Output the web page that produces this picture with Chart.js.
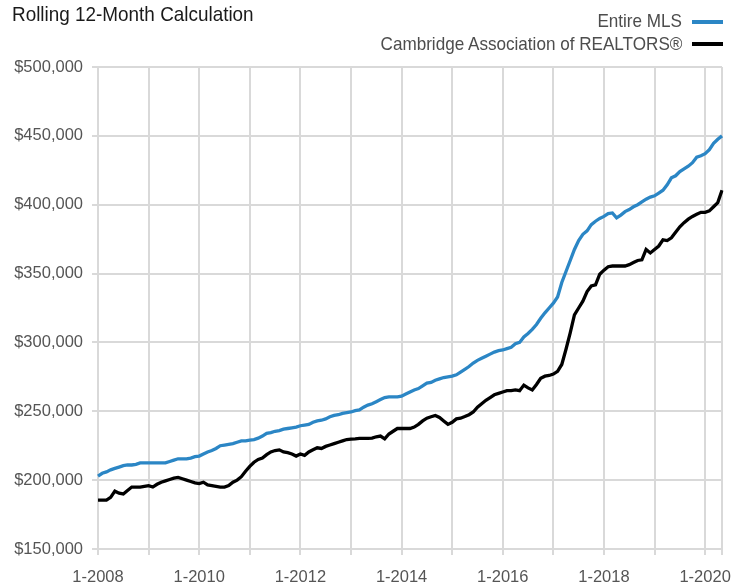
<!DOCTYPE html>
<html>
<head>
<meta charset="utf-8">
<title>Rolling 12-Month Calculation</title>
<script src="https://cdn.jsdelivr.net/npm/chart.js@4/dist/chart.umd.min.js"></script>
<style>
  html, body { margin: 0; padding: 0; background: #fff; }
  #wrap { position: relative; width: 743px; height: 585px; overflow: hidden; }
  #chart { position: absolute; left: 0; top: 0; }
  .title {
    position: absolute; left: 12px; top: 2px; line-height: 21px;
    font: 21px "Liberation Sans", Arial, sans-serif; color: #1a1a1a;
    transform: scaleX(0.9); transform-origin: left top; white-space: nowrap;
  }
  .legend-item { position: absolute; right: 61px; white-space: nowrap;
    font: 19px "Liberation Sans", Arial, sans-serif; color: #4d4d4d; line-height: 19px;
    transform: scaleX(0.9); transform-origin: right top; }
  .swatch { position: absolute; left: 692px; width: 31px; height: 4px; }
</style>
</head>
<body>
<div id="wrap">
  <canvas id="chart" width="743" height="585"></canvas>
  <div class="title">Rolling 12-Month Calculation</div>
  <div class="legend-item" style="top:11px">Entire MLS</div>
  <div class="swatch" style="top:20px;background:#2b86c5"></div>
  <div class="legend-item" style="top:34px">Cambridge Association of REALTORS®</div>
  <div class="swatch" style="top:42px;background:#000"></div>
</div>
<script>
// Rolling 12-month median price, Jan 2008 - May 2020
// -----------------------------------

var firstYear = 2008;
var monthCount = 149;

var seriesNames = ['Entire MLS', 'Cambridge Association of REALTORS®'];

var entireMls = [
    203000, 205000, 206000, 207500, 208500, 209500, 210500, 211000, 211000, 211500, 212500, 212500, // 2008
    212500, 212500, 212500, 212500, 212500, 213500, 214500, 215500, 215500, 215500, 216000, 217000, // 2009
    217500, 219000, 220500, 221500, 223000, 225000, 225500, 226000, 226500, 227500, 228500, 228500, // 2010
    229000, 229500, 230500, 232000, 234000, 234500, 235500, 236000, 237000, 237500, 238000, 238500, // 2011
    239500, 240000, 240500, 242000, 243000, 243500, 244500, 246000, 247000, 247500, 248500, 249000, // 2012
    249500, 250500, 251000, 253000, 254500, 255500, 257000, 258500, 260000, 260500, 260500, 260500, // 2013
    261000, 262500, 264000, 265500, 266500, 268500, 270500, 271000, 272500, 273500, 274500, 275000, // 2014
    275500, 276500, 278500, 280500, 282500, 285000, 287000, 288500, 290000, 291500, 293000, 294000, // 2015
    294500, 295500, 296500, 299000, 300000, 304000, 306500, 309500, 313000, 317500, 321500, 325000, // 2016
    328500, 333000, 343500, 351500, 359500, 367500, 374000, 378500, 381000, 385500, 388000, 390000, // 2017
    391500, 393500, 394000, 390500, 392500, 395000, 396500, 398500, 400000, 402000, 404000, 405500, // 2018
    406500, 408500, 410500, 414500, 419500, 421000, 424000, 426000, 428000, 430500, 434500, 435500, // 2019
    437000, 440000, 444500, 447500, 450000                                                          // 2020
];

var cambridge = [
    185500, 185500, 185500, 187500, 192000, 190500, 190000, 192500, 195000, 195000, 195000, 195500, // 2008
    196000, 195000, 197000, 198500, 199500, 200500, 201500, 202000, 201000, 200000, 199000, 198000, // 2009
    197500, 198500, 196500, 196000, 195500, 195000, 195000, 196000, 198500, 200000, 202500, 206500, // 2010
    210000, 213000, 215000, 216000, 218500, 220500, 221500, 222000, 220500, 220000, 219000, 217500, // 2011
    219000, 218000, 220500, 222000, 223500, 223000, 224500, 225500, 226500, 227500, 228500, 229500, // 2012
    229800, 230000, 230300, 230300, 230300, 230500, 231500, 232000, 230000, 233500, 235500, 237500, // 2013
    237500, 237500, 237500, 238500, 240500, 243000, 245000, 246000, 247000, 245500, 243000, 240500, // 2014
    242000, 244500, 245000, 246200, 247500, 249500, 253000, 255500, 258000, 260000, 262000, 263000, // 2015
    264000, 265000, 265000, 265500, 265000, 269000, 267000, 265500, 269500, 274000, 275500, 276000, // 2016
    277000, 279000, 284000, 295000, 307000, 320000, 325000, 330000, 337000, 341000, 341800, 349500, // 2017
    352500, 355000, 355500, 355500, 355500, 355500, 356500, 358000, 359500, 360000, 367500, 365000, // 2018
    367500, 370000, 374500, 374000, 376000, 380000, 384000, 387000, 389500, 391500, 393000, 394500, // 2019
    394500, 395500, 398500, 401500, 410500                                                          // 2020
];

var lineColors = ['#2b86c5', '#000000'];

var yMin = 150000;
var yMax = 500000;
var yStep = 50000;

// month labels like 1-2008, 2-2008 ...
var categories = [];
for (var i = 0; i < monthCount; i++) {
    categories.push((i % 12 + 1) + '-' + (firstYear + Math.floor(i / 12)));
}

var gridColor = '#d9d9d9';
var tickFont = { family: '"Liberation Sans", Arial, sans-serif', size: 16.5 };

new Chart(document.getElementById('chart'), {
    type: 'line',
    data: {
        labels: categories,
        datasets: [{
            label: seriesNames[0],
            data: entireMls,
            borderColor: lineColors[0],
            borderWidth: 3.3,
            pointRadius: 0,
            tension: 0
        }, {
            label: seriesNames[1],
            data: cambridge,
            borderColor: lineColors[1],
            borderWidth: 3.3,
            pointRadius: 0,
            tension: 0
        }]
    },
    options: {
        responsive: false,
        animation: false,
        layout: { padding: { top: 67, right: 21, bottom: 0, left: 0 } },
        plugins: {
            legend: { display: false },
            tooltip: { enabled: false }
        },
        scales: {
            x: {
                type: 'category',
                offset: false,
                border: { display: false },
                grid: {
                    lineWidth: 2,
                    tickLength: 6,
                    color: function(ctx) {
                        var idx = ctx.index;
                        return (idx % 12 === 0 || idx === monthCount - 1) ? gridColor : 'rgba(0,0,0,0)';
                    }
                },
                ticks: {
                    autoSkip: false,
                    maxRotation: 0,
                    minRotation: 0,
                    padding: 13,
                    color: '#555',
                    font: tickFont,
                    callback: function(val, idx) {
                        return idx % 24 === 0 ? categories[idx] : '';
                    }
                },
                afterFit: function(scale) { scale.height = 36; }
            },
            y: {
                min: yMin,
                max: yMax,
                border: { display: false },
                grid: { color: gridColor, lineWidth: 2, tickLength: 6 },
                ticks: {
                    stepSize: yStep,
                    padding: 9,
                    color: '#555',
                    font: tickFont,
                    callback: function(v) { return '$' + v.toLocaleString('en-US'); }
                },
                afterFit: function(scale) { scale.width = 98; }
            }
        }
    }
});
</script>
</body>
</html>
